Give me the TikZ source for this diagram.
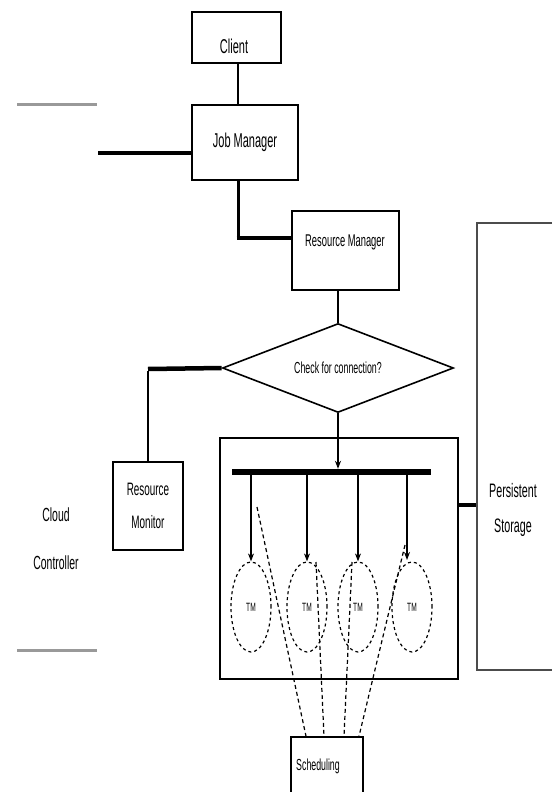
\documentclass[tikz,border=0pt]{standalone}
\usepackage{fontspec}
\setmainfont{Liberation Sans}[FakeStretch=0.55]
\usetikzlibrary{shapes.geometric,arrows.meta}
\begin{document}
\begin{tikzpicture}[x=1pt,y=-1pt,
  box/.style={draw,line width=1.6pt,rectangle,inner sep=0pt},
  heavy/.style={line width=4.5pt},
  conn/.style={line width=1.6pt},
  tmnode/.style={draw,dashed,line width=1.2pt,ellipse,minimum width=40pt,minimum height=90pt,inner sep=0pt,font=\fontsize{12}{13}\selectfont},
  sched/.style={dashed,line width=1.2pt,dash pattern=on 4pt off 3pt},
  arr/.style={line width=1.2pt,-{Stealth[length=8pt,width=6pt]}},
  grayline/.style={line width=3pt,gray!80}]
\useasboundingbox (0,0) rectangle (552,792);
% boxes
\node[box,minimum width=89pt,minimum height=51pt] (client) at (236.5,37.5) {};
\node[font=\fontsize{20}{22}\selectfont] (clienttext) at (234,46) {Client};
\node[box,minimum width=106pt,minimum height=75pt,font=\fontsize{20}{22}\selectfont] (jm) at (245,142.5) {Job Manager};
\node[box,minimum width=107pt,minimum height=79pt] (rm) at (345.5,250.5) {};
\node[font=\fontsize{17}{19}\selectfont] (rmtext) at (345,242) {Resource Manager};
\node[draw,line width=1.6pt,diamond,aspect=2.6,minimum width=231pt,minimum height=89pt,inner sep=0pt,font=\fontsize{16}{18}\selectfont] (dia) at (338,368) {Check for connection?};
\node[box,minimum width=70pt,minimum height=88pt,align=center,font=\fontsize{18}{33}\selectfont] (rmon) at (148,506) {Resource\\Monitor};
\node[box,minimum width=238pt,minimum height=241pt] (cont) at (339,558.5) {};
\node[fill=black,minimum width=199pt,minimum height=6pt,inner sep=0pt] (bus) at (331.5,472) {};
\node[tmnode] (tm1) at (251,607) {TM};
\node[tmnode] (tm2) at (307,607) {TM};
\node[tmnode] (tm3) at (358,607) {TM};
\node[tmnode] (tm4) at (412,607) {TM};
\node[box,minimum width=72pt,minimum height=58pt] (sch) at (327,766) {};
\node[font=\fontsize{16}{18}\selectfont] (schtext) at (318,766) {Scheduling};
\node[align=center,font=\fontsize{19.5}{35}\selectfont] (ps) at (513,510) {Persistent\\Storage};
\node[align=center,font=\fontsize{19}{48}\selectfont] (cc) at (56,539) {Cloud\\Controller};
% coordinates
\coordinate (jmL) at (98,153);
\coordinate (jmC) at (238,238);
\coordinate (diaL) at (148,369);
\coordinate (psT) at (552,223);
\coordinate (psTL) at (477,223);
\coordinate (psBL) at (477,670);
\coordinate (psB) at (552,670);
\coordinate (psM) at (477,505);
\coordinate (d1) at (257,507);
\coordinate (d2) at (316,562);
\coordinate (d3) at (352,562);
\coordinate (d4) at (405,545);
\coordinate (ccT1) at (17,104);
\coordinate (ccT2) at (97,104);
\coordinate (ccB1) at (17,650);
\coordinate (ccB2) at (97,650);
% connectors
\draw[conn] (client.south -| 238,0) -- (jm.north -| 238,0);
\draw[heavy] (jm.west |- jmL) -- (jmL);
\draw[line width=3pt] (jm.south -| jmC) -- (jmC);
\draw[heavy] ([xshift=-1.5pt]jmC) -- (rm.west |- jmC);
\draw[conn] (rm.south -| dia.north) -- (dia.north);
\draw[heavy] (dia.west) -- (diaL);
\draw[line width=2pt] ([yshift=-2pt]diaL) -- (rmon.north);
\draw[arr] (dia.south) -- (dia.south |- bus.north);
\draw[arr] (bus.south -| tm1.north) -- (tm1.north);
\draw[arr] (bus.south -| tm2.north) -- (tm2.north);
\draw[arr] (bus.south -| tm3.north) -- (tm3.north);
\draw[arr] (bus.south -| 407,0) -- (407,560);
\draw[sched] (d1) -- (sch.north -| 306,0);
\draw[sched] (d2) -- (sch.north -| 324,0);
\draw[sched] (d3) -- (sch.north -| 344,0);
\draw[sched] (d4) -- (sch.north -| 359,0);
\draw[heavy] (cont.east |- psM) -- (psM);
\draw[line width=1.6pt,gray!60!black] (psT) -- (psTL) -- (psBL) -- (psB);
\draw[grayline] (ccT1) -- (ccT2);
\draw[grayline] (ccB1) -- (ccB2);
\end{tikzpicture}
\end{document}
